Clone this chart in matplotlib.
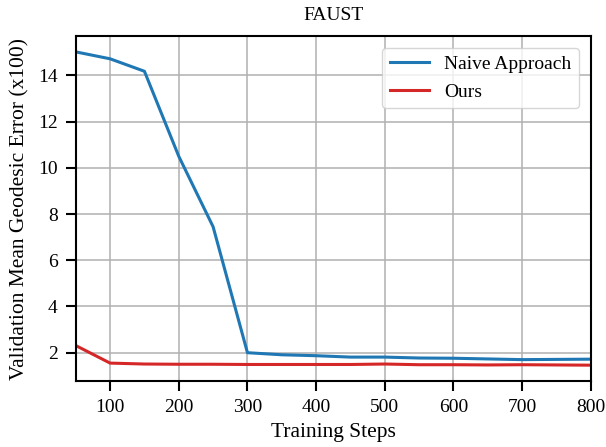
import matplotlib
matplotlib.use("Agg")
import matplotlib.pyplot as plt

# ── Data ─────────────────────────────────────────────────────────────────────
steps = [50, 100, 150, 200, 250, 300, 350, 400, 450, 500, 550, 600, 650, 700, 750, 800]
naive = [15.02, 14.72, 14.18, 10.5, 7.45, 2.0, 1.91, 1.87, 1.81, 1.81, 1.77, 1.76,
         1.73, 1.70, 1.71, 1.72]
ours = [2.31, 1.55, 1.51, 1.50, 1.50, 1.49, 1.49, 1.49, 1.49, 1.51, 1.48, 1.48,
        1.47, 1.48, 1.47, 1.46]

xticks = [100, 200, 300, 400, 500, 600, 700, 800]
yticks = [2, 4, 6, 8, 10, 12, 14]

plt.rcParams["font.family"] = ["Liberation Serif", "DejaVu Serif"]

fig = plt.figure(figsize=(6.06, 4.47), dpi=100)
ax = fig.add_axes([0.125, 0.148, 0.85, 0.771])

ax.plot(steps, naive, color="#1f77b4", lw=2.2, label="Naive Approach")
ax.plot(steps, ours, color="#d62728", lw=2.2, label="Ours")

ax.set_xlim(50, 800)
ax.set_xticks(xticks)
ax.set_yticks(yticks)
ax.grid(True, color="#b0b0b0", lw=1.1)
ax.set_axisbelow(True)

for s in ax.spines.values():
    s.set_linewidth(1.5)
    s.set_color("black")
ax.tick_params(axis="both", labelsize=14, width=1.5, length=7, direction="out", pad=6)

ax.set_title("FAUST", fontsize=14, pad=12)
ax.set_xlabel("Training Steps", fontsize=15.5, labelpad=5)
ax.set_ylabel("Validation Mean Geodesic Error (x100)", fontsize=15.5, labelpad=6)

ax.legend(loc="upper right", fontsize=14, framealpha=0.8, handlelength=2.0,
          borderaxespad=0.6)

fig.savefig("out.png", dpi=100)
